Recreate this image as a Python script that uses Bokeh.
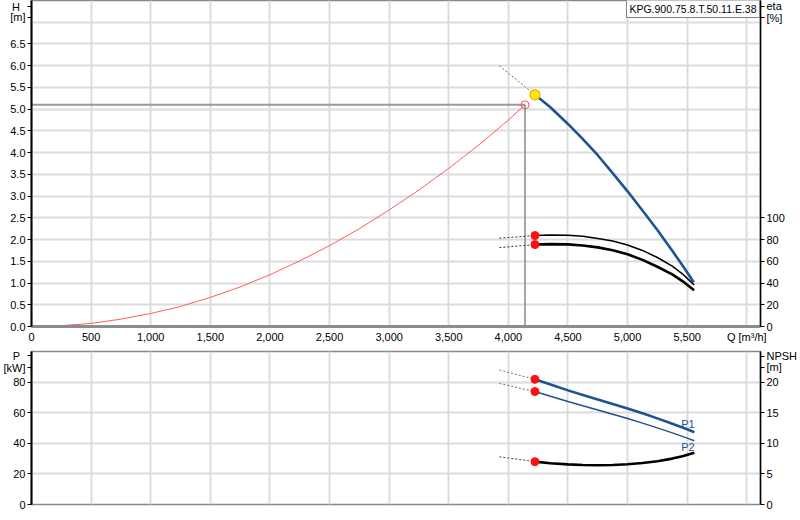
from bokeh.plotting import figure
from bokeh.layouts import column
from bokeh.models import Range1d, LinearAxis, FixedTicker, NumeralTickFormatter, Label
from bokeh.embed import file_html
from bokeh.resources import INLINE

# ---------------- data ----------------
q_ticks = [0, 500, 1000, 1500, 2000, 2500, 3000, 3500, 4000, 4500, 5000, 5500, 6000]
h_ticks = [0.0, 0.5, 1.0, 1.5, 2.0, 2.5, 3.0, 3.5, 4.0, 4.5, 5.0, 5.5, 6.0, 6.5]
eta_ticks = [0, 20, 40, 60, 80, 100]
p_ticks = [0, 20, 40, 60, 80]
npsh_ticks = [0, 5, 10, 15, 20]

# axis titles (placed as extra labelled positions on the axes)
h_title = {7.36: "H\u2002", 7.11: "[m]"}
eta_title = {294.8: "eta", 284.0: "[%]"}
p_title = {97.2: "P\u2002", 89.5: "[kW]"}
npsh_title = {24.2: "NPSH", 22.4: "[m]"}
q_title = {6000: "Q [m³/h]"}

# pump head curve
q_h = [4223, 4350, 4500, 4625, 4750, 4875, 5000, 5125, 5250, 5375, 5460, 5555]
h_pump = [5.33, 5.05, 4.66, 4.31, 3.94, 3.53, 3.11, 2.67, 2.22, 1.74, 1.41, 1.02]
q_ext = [3925, 4223]
h_ext = [6.0, 5.33]

# system curve
q_sys = [0, 250, 500, 750, 1000, 1250, 1500, 1750, 2000, 2250, 2500, 2750, 3000,
         3250, 3500, 3750, 4000, 4140]
h_sys = [0.0, 0.02, 0.07, 0.17, 0.30, 0.46, 0.67, 0.91, 1.19, 1.51, 1.86, 2.25, 2.68,
         3.14, 3.64, 4.17, 4.75, 5.10]
duty_q = 4140
duty_h = 5.10

# efficiency curves
q_eta = [4223, 4350, 4500, 4625, 4750, 4875, 5000, 5125, 5250, 5375, 5460, 5558]
eta_1 = [83.7, 84.2, 84.0, 83.0, 81.0, 78.6, 75.0, 70.0, 63.5, 55.5, 48.5, 38.3]
eta_2 = [75.4, 75.8, 75.6, 74.6, 72.8, 70.1, 66.5, 61.3, 55.0, 48.0, 41.8, 33.3]
eta_1_ext = [81.3, 83.7]
eta_2_ext = [72.6, 75.4]

# power curves
q_p = [4223, 4360, 4500, 4625, 4750, 4875, 5000, 5125, 5250, 5375, 5500, 5560]
p1 = [81.8, 78.2, 74.6, 71.6, 68.6, 65.7, 62.7, 59.6, 56.3, 52.8, 49.2, 47.2]
p2 = [73.8, 70.6, 67.3, 64.6, 61.8, 59.0, 56.2, 53.2, 50.1, 46.8, 43.4, 41.7]
p1_ext = [87.9, 81.8]
p2_ext = [79.1, 73.8]

# NPSH curve
q_npsh = [4223, 4350, 4500, 4625, 4750, 4875, 5000, 5125, 5250, 5375, 5460, 5560]
npsh = [7.00, 6.75, 6.55, 6.45, 6.41, 6.45, 6.58, 6.78, 7.08, 7.50, 7.90, 8.47]
npsh_ext = [7.79, 7.00]

title_text = "KPG.900.75.8.T.50.11.E.38"

# ---------------- styling ----------------
FONT = "Liberation Sans"
BLUE = "#1c5390"
GRID = "#dcdcdc"
XMAX = 6115
W = 800


def style_axis(ax, ticks, overrides=None):
    extra = list(overrides.keys()) if overrides else []
    ax.ticker = FixedTicker(ticks=list(ticks) + extra)
    if overrides:
        ax.major_label_overrides = dict(overrides)
    ax.major_label_text_font = FONT
    ax.major_label_text_font_size = "11px"
    ax.major_label_text_color = "#000000"
    ax.minor_tick_line_color = None
    ax.major_tick_in = 0
    ax.major_tick_out = 4
    ax.major_tick_line_color = "#000000"
    ax.major_label_standoff = 2
    ax.axis_line_color = "#000000"
    ax.axis_line_width = 2


# ---------------- top figure ----------------
top = figure(width=W, height=346, x_range=Range1d(0, XMAX), y_range=Range1d(0, 7.5),
             output_backend="svg", toolbar_location=None,
             min_border_left=29, min_border_right=37, min_border_top=0,
             min_border_bottom=20)
top.extra_y_ranges = {"eta": Range1d(0, 300)}
top.outline_line_color = "#888888"
top.outline_line_width = 1.5

ya = top.yaxis[0]
style_axis(ya, h_ticks, h_title)
ya.formatter = NumeralTickFormatter(format="0.0")
xa = top.xaxis[0]
style_axis(xa, q_ticks)
xa.formatter = NumeralTickFormatter(format="0,0")
xa.major_label_overrides = q_title
xa.major_tick_out = 0
xa.major_label_standoff = 4
xa.axis_line_color = "#8c8c8c"
xa.axis_line_width = 3

eta_axis = LinearAxis(y_range_name="eta")
style_axis(eta_axis, eta_ticks, eta_title)
eta_axis.axis_line_width = 1.5
top.add_layout(eta_axis, "right")

top.xgrid.ticker = FixedTicker(ticks=q_ticks)
top.ygrid.ticker = FixedTicker(ticks=h_ticks + [7.0])
for g in (top.xgrid[0], top.ygrid[0]):
    g.grid_line_color = GRID
    g.grid_line_width = 2

# crosshair at duty point
top.line([0, duty_q], [duty_h, duty_h], line_color="#9a9a9a", line_width=2)
top.line([duty_q, duty_q], [0, duty_h], line_color="#8a8a8a", line_width=1.5)

# system curve
top.line(q_sys, h_sys, line_color="#ff4d4d", line_width=1, line_alpha=0.9)
top.scatter([duty_q], [duty_h], size=8, fill_color=None, line_color="#ff5050", line_width=1)

# pump curve
top.line(q_ext, h_ext, line_color="#5b6f99", line_width=1, line_dash="2 2")
top.line(q_h, h_pump, line_color=BLUE, line_width=2.6, line_join="round")
top.scatter([q_h[0]], [h_pump[0]], size=10, fill_color="#ffee00", line_color="#ffa000",
            line_width=1.2)

# efficiency curves
top.line(q_ext, eta_1_ext, y_range_name="eta", line_color="#333333", line_width=1,
         line_dash="2 2")
top.line(q_ext, eta_2_ext, y_range_name="eta", line_color="#333333", line_width=1,
         line_dash="2 2")
top.line(q_eta, eta_1, y_range_name="eta", line_color="#000000", line_width=1.5,
         line_join="round")
top.line(q_eta, eta_2, y_range_name="eta", line_color="#000000", line_width=2.6,
         line_join="round")
top.scatter([q_eta[0], q_eta[0]], [eta_1[0], eta_2[0]], y_range_name="eta", size=8,
            fill_color="#ff1010", line_color="#ff1010")

top.add_layout(Label(x=XMAX, y=7.5, text=title_text, text_align="right", text_baseline="top",
                     x_offset=-1, y_offset=1, text_font=FONT, text_font_size="10.5px",
                     text_color="#000000", background_fill_color="white",
                     border_line_color="#808080", border_line_width=1, padding=3))

# ---------------- bottom figure ----------------
bot = figure(width=W, height=166, x_range=top.x_range, y_range=Range1d(0, 100),
             output_backend="svg", toolbar_location=None,
             min_border_left=29, min_border_right=37, min_border_top=5,
             min_border_bottom=8)
bot.extra_y_ranges = {"npsh": Range1d(0, 25)}
bot.outline_line_color = "#888888"
bot.outline_line_width = 1.5
bot.xaxis.visible = False
style_axis(bot.yaxis[0], p_ticks, p_title)
npsh_axis = LinearAxis(y_range_name="npsh")
style_axis(npsh_axis, npsh_ticks, npsh_title)
npsh_axis.axis_line_width = 1.5
bot.add_layout(npsh_axis, "right")

bot.xgrid.ticker = FixedTicker(ticks=q_ticks)
bot.ygrid.ticker = FixedTicker(ticks=p_ticks)
for g in (bot.xgrid[0], bot.ygrid[0]):
    g.grid_line_color = GRID
    g.grid_line_width = 2

bot.line(q_ext, p1_ext, line_color="#5b6f99", line_width=1, line_dash="2 2")
bot.line(q_ext, p2_ext, line_color="#5b6f99", line_width=1, line_dash="2 2")
bot.line(q_p, p1, line_color=BLUE, line_width=2.6, line_join="round")
bot.line(q_p, p2, line_color=BLUE, line_width=1.5, line_join="round")
bot.line(q_ext, npsh_ext, y_range_name="npsh", line_color="#444444", line_width=1,
         line_dash="2 2")
bot.line(q_npsh, npsh, y_range_name="npsh", line_color="#000000", line_width=2.6,
         line_join="round")
bot.scatter([q_p[0], q_p[0]], [p1[0], p2[0]], size=8, fill_color="#ff1010",
            line_color="#ff1010")
bot.scatter([q_npsh[0]], [npsh[0]], y_range_name="npsh", size=8, fill_color="#ff1010",
            line_color="#ff1010")

blbl = dict(text_font=FONT, text_font_size="11px", text_color=BLUE)
bot.add_layout(Label(x=5506, y=52.7, text="P1", text_align="center",
                     text_baseline="middle", **blbl))
bot.add_layout(Label(x=5506, y=37.4, text="P2", text_align="center",
                     text_baseline="middle", **blbl))

layout = column(top, bot, spacing=0)
open("out.html", "w").write(file_html(layout, INLINE))
